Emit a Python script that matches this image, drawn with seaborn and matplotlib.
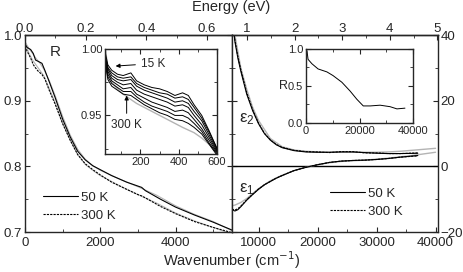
import matplotlib
matplotlib.use("Agg")
import matplotlib.pyplot as plt
import seaborn as sns
from matplotlib.ticker import MultipleLocator, FormatStrFormatter
from matplotlib.lines import Line2D

CM_PER_EV = 8065.54

# far-infrared reflectance, main left panel
wn_far = [0, 60, 150, 220, 280, 350, 450, 530, 650, 800, 1000, 1200, 1400, 1600,
          1800, 2000, 2300, 2700, 3000, 3100, 3200, 3600, 4000, 4500, 5000, 5500]
r_50K = [0.986, 0.981, 0.978, 0.972, 0.962, 0.960, 0.957, 0.946, 0.928, 0.905, 0.872,
         0.845, 0.823, 0.810, 0.801, 0.795, 0.786, 0.776, 0.770, 0.768, 0.763, 0.750,
         0.738, 0.726, 0.715, 0.703]
r_300K = [0.983, 0.975, 0.965, 0.955, 0.950, 0.945, 0.940, 0.933, 0.915, 0.895, 0.865,
          0.840, 0.818, 0.804, 0.795, 0.787, 0.776, 0.765, 0.757, 0.755, 0.752, 0.739,
          0.728, 0.716, 0.707, 0.699]
wn_fit = [0, 100, 200, 300, 400, 500, 650, 800, 1000, 1200, 1400, 1600, 1800, 2000,
          2500, 3000, 3500, 4000, 4500, 5000, 5500]
r_fit_50K = [0.990, 0.980, 0.972, 0.964, 0.957, 0.948, 0.930, 0.908, 0.876, 0.848, 0.826,
             0.811, 0.801, 0.794, 0.781, 0.769, 0.756, 0.740, 0.727, 0.716, 0.702]
r_fit_300K = [0.990, 0.973, 0.962, 0.954, 0.946, 0.938, 0.918, 0.897, 0.866, 0.840, 0.818,
              0.803, 0.794, 0.786, 0.771, 0.757, 0.744, 0.729, 0.717, 0.707, 0.697]

# low-frequency inset, 15 K ... 300 K
wn_low = [15, 30, 50, 80, 110, 150, 180, 220, 260, 300, 340, 380, 420, 450, 480, 520, 560, 600]
r_low = [
    [0.998, 0.988, 0.984, 0.981, 0.980, 0.982, 0.976, 0.973, 0.971, 0.970, 0.968, 0.965, 0.967, 0.965, 0.958, 0.950, 0.938, 0.925],
    [0.996, 0.986, 0.982, 0.979, 0.978, 0.979, 0.974, 0.971, 0.969, 0.967, 0.966, 0.963, 0.964, 0.962, 0.956, 0.948, 0.937, 0.925],
    [0.994, 0.985, 0.980, 0.977, 0.976, 0.977, 0.972, 0.969, 0.967, 0.965, 0.963, 0.960, 0.961, 0.959, 0.953, 0.946, 0.935, 0.924],
    [0.993, 0.983, 0.978, 0.975, 0.973, 0.974, 0.969, 0.966, 0.964, 0.962, 0.960, 0.957, 0.958, 0.956, 0.950, 0.943, 0.933, 0.923],
    [0.992, 0.981, 0.976, 0.973, 0.970, 0.971, 0.966, 0.963, 0.960, 0.958, 0.956, 0.953, 0.954, 0.952, 0.947, 0.940, 0.931, 0.922],
    [0.991, 0.979, 0.974, 0.971, 0.968, 0.968, 0.964, 0.960, 0.957, 0.955, 0.953, 0.950, 0.950, 0.948, 0.944, 0.938, 0.929, 0.921],
    [0.990, 0.977, 0.972, 0.969, 0.966, 0.965, 0.962, 0.958, 0.955, 0.952, 0.950, 0.947, 0.946, 0.944, 0.941, 0.936, 0.928, 0.920],
]
r_low_fit = [1.003, 0.985, 0.975, 0.970, 0.966, 0.962, 0.959, 0.956, 0.953, 0.950, 0.947,
             0.944, 0.941, 0.939, 0.937, 0.933, 0.928, 0.923]

# dielectric function, right panel
wn_vis = [5500, 6000, 6500, 7000, 8000, 9000, 10000, 11000, 12000, 13000, 14000, 16000,
          18000, 20000, 22000, 24000, 26000, 28000, 30000, 32000, 34000, 37000]
e2_50K = [46, 38, 33, 29, 22, 17, 13, 10, 8, 6.6, 5.7, 4.8, 4.4, 4.3, 4.3, 4.4, 4.4,
          4.2, 4.0, 3.9, 3.9, 4.0]
e2_300K = [46, 38.5, 33.5, 29.5, 22.5, 17.3, 13.2, 10.1, 8.1, 6.7, 5.8, 4.9, 4.5, 4.4,
           4.2, 4.5, 4.5, 4.1, 4.1, 3.9, 3.9, 4.1]
e1_50K = [-13.2, -13.6, -13.2, -12.3, -10.3, -8.6, -7.0, -5.6, -4.6, -3.6, -2.8, -1.3,
          -0.3, 0.5, 1.2, 1.6, 1.8, 1.9, 2.1, 2.4, 2.8, 3.3]
e1_300K = [-13.0, -13.3, -12.9, -12.1, -10.2, -8.5, -6.9, -5.6, -4.6, -3.6, -2.8, -1.3,
           -0.3, 0.5, 1.2, 1.6, 1.8, 1.9, 2.1, 2.4, 2.8, 3.2]
wn_vis_fit = [5500, 6000, 7000, 8000, 9000, 10000, 12000, 14000, 16000, 18000, 20000,
              22000, 24000, 26000, 28000, 30000, 32000, 34000, 36000, 38000, 40000]
e2_fit = [48, 40, 30, 23.5, 18, 14, 8.5, 6.0, 5.0, 4.6, 4.4, 4.3, 4.3, 4.3, 4.3, 4.3,
          4.4, 4.6, 4.9, 5.2, 5.5]
e1_fit = [-12.0, -11.8, -11.0, -9.8, -8.3, -6.8, -4.4, -2.7, -1.3, -0.3, 0.5, 1.1, 1.5,
          1.7, 1.9, 2.2, 2.5, 2.9, 3.3, 3.8, 4.3]

# wide-range reflectance, right inset
wn_wide = [0, 370, 750, 2200, 4500, 7800, 10100, 13400, 16500, 19000, 21400, 24000,
           27700, 31400, 34000, 37000]
r_wide = [1.0, 0.97, 0.86, 0.80, 0.73, 0.69, 0.64, 0.55, 0.43, 0.32, 0.23, 0.23, 0.24,
          0.22, 0.19, 0.20]

sns.set_style("ticks")
plt.rcParams["font.family"] = ["Liberation Sans", "DejaVu Sans"]
plt.rcParams.update({
    "xtick.direction": "in", "ytick.direction": "in",
    "xtick.major.size": 3.5, "ytick.major.size": 3.5,
    "xtick.minor.size": 2, "ytick.minor.size": 2,
    "axes.linewidth": 1.0, "xtick.major.pad": 2, "ytick.major.pad": 2,
    "font.size": 9,
})

GRAY = "#b4b4b4"
DASH = (0, (2, 1))
LW = 0.8

fig = plt.figure(figsize=(4.63, 2.72), dpi=100)
ax_l = fig.add_axes([0.054, 0.147, 0.447, 0.724])
ax_r = fig.add_axes([0.501, 0.147, 0.444, 0.724])


def line(ax, x, y, color="black", ls="-", lw=LW):
    sns.lineplot(x=x, y=y, ax=ax, color=color, linestyle=ls, lw=lw,
                 errorbar=None, legend=False)


def temp_legend(ax, anchor):
    ax.legend(handles=[Line2D([], [], color="black", lw=LW),
                       Line2D([], [], color="black", lw=LW, ls=DASH)],
              labels=["50 K", "300 K"], loc="lower left", bbox_to_anchor=anchor,
              frameon=False, handlelength=2.7, handletextpad=0.2, labelspacing=0.45,
              fontsize=9.5, borderaxespad=0)


# left panel
line(ax_l, wn_fit, r_fit_300K, GRAY)
line(ax_l, wn_fit, r_fit_50K, GRAY)
line(ax_l, wn_far, r_300K, ls=DASH)
line(ax_l, wn_far, r_50K)
ax_l.set_xlim(0, 5500)
ax_l.set_ylim(0.7, 1.0)
ax_l.xaxis.set_major_locator(MultipleLocator(2000))
ax_l.xaxis.set_minor_locator(MultipleLocator(1000))
ax_l.yaxis.set_major_locator(MultipleLocator(0.1))
ax_l.yaxis.set_minor_locator(MultipleLocator(0.05))
ax_l.yaxis.set_major_formatter(FormatStrFormatter("%.1f"))
ax_l.tick_params(which="both", top=False, right=True, labelsize=9.5)
ax_l.tick_params(axis="x", pad=3.5)
ax_l.set_xlabel("")
ax_l.set_ylabel("")
ax_l.text(0.12, 0.915, "R", transform=ax_l.transAxes, fontsize=11, va="center")
temp_legend(ax_l, (0.06, 0.025))

top_l = ax_l.secondary_xaxis("top", functions=(lambda w: w / CM_PER_EV, lambda e: e * CM_PER_EV))
top_l.xaxis.set_major_locator(MultipleLocator(0.2))
top_l.xaxis.set_minor_locator(MultipleLocator(0.1))
top_l.xaxis.set_major_formatter(FormatStrFormatter("%.1f"))
top_l.tick_params(which="both", direction="in", labelsize=9.5, pad=0)

# right panel
ax_r.axhline(0, color="black", lw=1.0)
line(ax_r, wn_vis_fit, e2_fit, GRAY, lw=1.0)
line(ax_r, wn_vis_fit, e1_fit, GRAY, lw=1.0)
line(ax_r, wn_vis, e2_300K, ls=DASH)
line(ax_r, wn_vis, e1_300K, ls=DASH)
line(ax_r, wn_vis, e2_50K)
line(ax_r, wn_vis, e1_50K)
ax_r.set_xlim(5500, 40340)
ax_r.set_ylim(-20, 40)
ax_r.xaxis.set_major_locator(MultipleLocator(10000))
ax_r.xaxis.set_minor_locator(MultipleLocator(5000))
ax_r.yaxis.set_major_locator(MultipleLocator(20))
ax_r.yaxis.set_minor_locator(MultipleLocator(10))
ax_r.yaxis.tick_right()
ax_r.tick_params(which="both", top=False, left=True, right=True, labelleft=False,
                 labelright=True, labelsize=9.5)
ax_r.tick_params(axis="x", pad=3.5)
ax_r.set_xlabel("")
ax_r.set_ylabel("")
ax_r.text(0.035, 0.575, r"$\mathregular{\varepsilon_2}$", transform=ax_r.transAxes,
          fontsize=12, va="center")
ax_r.text(0.035, 0.22, r"$\mathregular{\varepsilon_1}$", transform=ax_r.transAxes,
          fontsize=12, va="center")
temp_legend(ax_r, (0.45, 0.045))

top_r = ax_r.secondary_xaxis("top", functions=(lambda w: w / CM_PER_EV, lambda e: e * CM_PER_EV))
top_r.xaxis.set_major_locator(MultipleLocator(1))
top_r.xaxis.set_minor_locator(MultipleLocator(0.5))
top_r.tick_params(which="both", direction="in", labelsize=9.5, pad=0)

fig.text(0.5, 1.0, "Energy (eV)", ha="center", va="top", fontsize=10.5)
fig.text(0.5, 0.003, "Wavenumber (cm$^{-1}$)", ha="center", va="bottom", fontsize=10.5)

# left inset
ax_li = fig.add_axes([0.2268, 0.434, 0.242, 0.386])
line(ax_li, wn_low, r_low_fit, GRAY, lw=1.0)
for r in r_low:
    line(ax_li, wn_low, r, lw=0.7)
ax_li.set_xlim(15, 600)
ax_li.set_ylim(0.921, 1.0)
ax_li.xaxis.set_major_locator(MultipleLocator(200))
ax_li.xaxis.set_minor_locator(MultipleLocator(100))
ax_li.yaxis.set_major_locator(MultipleLocator(0.05))
ax_li.yaxis.set_minor_locator(MultipleLocator(0.025))
ax_li.yaxis.set_major_formatter(FormatStrFormatter("%.2f"))
ax_li.tick_params(which="both", top=True, right=True, labelsize=8)
ax_li.set_xlabel("")
ax_li.set_ylabel("")
ax_li.annotate("15 K", xy=(56, 0.987), xytext=(205, 0.989), fontsize=8.5, va="center",
               arrowprops=dict(arrowstyle="-|>", color="black", lw=0.7, mutation_scale=6))
ax_li.annotate("300 K", xy=(128, 0.967), xytext=(128, 0.9425), fontsize=8.5, ha="center",
               va="center", arrowprops=dict(arrowstyle="-|>", color="black", lw=0.7,
                                            mutation_scale=6))

# right inset
ax_ri = fig.add_axes([0.661, 0.548, 0.231, 0.272])
line(ax_ri, wn_wide, r_wide, lw=0.7)
ax_ri.set_xlim(0, 40000)
ax_ri.set_ylim(0, 1.0)
ax_ri.xaxis.set_major_locator(MultipleLocator(20000))
ax_ri.xaxis.set_minor_locator(MultipleLocator(10000))
ax_ri.yaxis.set_major_locator(MultipleLocator(0.5))
ax_ri.yaxis.set_minor_locator(MultipleLocator(0.25))
ax_ri.yaxis.set_major_formatter(FormatStrFormatter("%.1f"))
ax_ri.tick_params(which="both", top=True, right=True, labelsize=8)
ax_ri.set_xlabel("")
ax_ri.set_ylabel("R", rotation=0, fontsize=9, labelpad=3, va="center")

fig.savefig("out.png", dpi=100)
